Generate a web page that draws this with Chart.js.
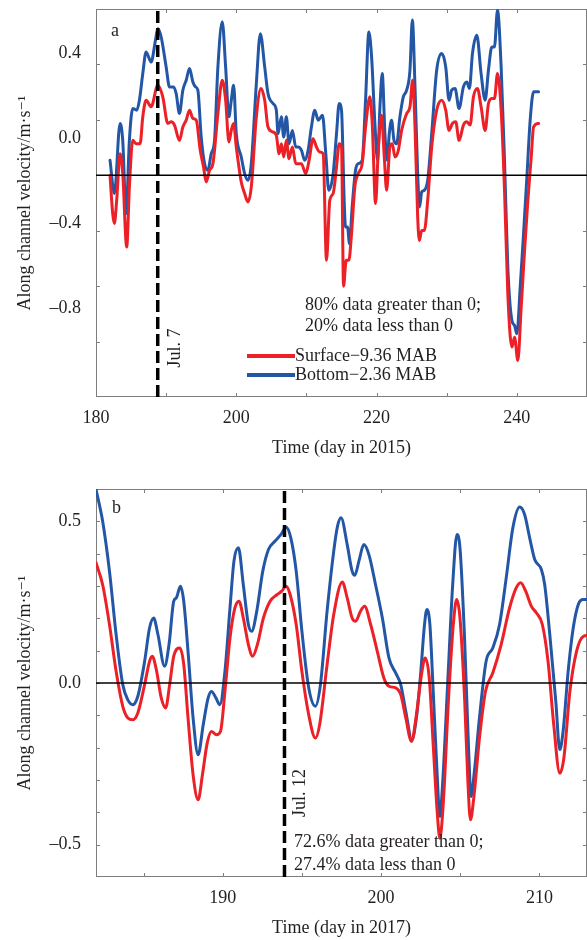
<!DOCTYPE html>
<html><head><meta charset="utf-8">
<script src="https://cdn.jsdelivr.net/npm/chart.js@4.4.0/dist/chart.umd.min.js"></script>
<style>
html,body{margin:0;padding:0;background:#fff;}
#wrap{position:relative;width:587px;height:940px;overflow:hidden;}
.box{position:absolute;left:0;width:587px;height:470px;}
canvas{display:block;}
</style></head><body>
<div id="wrap">
<div class="box" style="top:0"><canvas id="ca" width="587" height="470"></canvas></div>
<div class="box" style="top:470px"><canvas id="cb" width="587" height="470"></canvas></div>
</div>
<script>
// ---------- Panel a (2015) ----------
const daysA_surf = [182.0,182.38,182.62,182.95,183.43,183.81,184.38,184.76,185.24,185.71,186.29,186.67,187.14,187.86,188.81,189.52,190.24,190.71,191.19,191.90,192.38,192.86,193.33,193.81,194.29,194.86,195.33,195.71,196.19,196.67,197.38,198.0,198.48,198.95,199.29,199.62,200.0,200.71,201.19,201.67,202.14,202.86,203.52,204.05,204.52,205.24,205.71,206.10,206.43,206.76,207.14,207.52,208.0,208.48,208.81,209.29,209.90,210.38,210.95,211.43,211.90,212.38,212.86,213.33,213.81,214.29,214.67,
  215.0,215.29,215.67,216.05,216.43,216.90,217.38,217.95,218.43,219.05,219.38,219.86,220.24,220.71,221.10,221.43,221.90,222.24,222.62,223.10,223.57,224.29,224.76,225.14,225.48,225.86,226.10,226.43,226.81,227.29,227.86,228.57,229.29,229.86,230.33,230.81,231.29,231.76,232.38,232.86,233.33,233.81,234.38,234.90,235.48,235.95,236.43,236.81,237.24,237.76,238.24,238.71,239.29,239.67,240.14,240.62,241.10,241.57,242.05,242.38,243.10];
const surfaceA = [0,-0.138,-0.174,-0.090,0.078,0.006,-0.259,-0.042,0.126,0.114,0.114,0.211,0.271,0.247,0.325,0.283,0.187,0.193,0.181,0.126,0.174,0.199,0.235,0.205,0.199,0.090,0.030,-0.024,0.018,0.042,0.223,0.343,0.271,0.120,0.162,0.187,0.102,-0.024,-0.066,-0.096,-0.042,0.211,0.313,0.271,0.174,0.156,0.144,0.078,0.114,0.066,0.126,0.060,0.102,0.042,0.042,0.042,0.006,0.054,0.132,0.102,0.084,0.078,-0.307,-0.090,-0.066,0.030,0.114,
  0.102,-0.400,-0.307,-0.307,-0.211,-0.042,0.006,0.042,0.174,0.283,0.187,-0.102,0.090,0.217,0.066,-0.054,0.102,0.114,0.066,0.090,0.162,0.223,0.247,0.343,0.174,-0.150,-0.235,-0.199,-0.199,-0.090,0.102,0.235,0.271,0.235,0.162,0.187,0.193,0.126,0.181,0.193,0.181,0.283,0.313,0.247,0.162,0.259,0.277,0.277,0.367,0.235,-0.054,-0.427,-0.620,-0.584,-0.668,-0.475,-0.271,-0.090,0.066,0.174,0.187];
const daysA_bot = [182.0,182.62,183.43,183.81,184.29,184.76,185.24,185.81,186.19,186.67,187.14,187.86,188.48,188.81,189.29,190.0,190.48,191.05,191.43,191.90,192.38,192.86,193.33,193.81,194.19,194.52,195.0,195.48,195.95,196.43,196.90,197.38,198.0,198.48,198.95,199.29,199.62,200.0,200.71,201.19,201.67,202.14,202.86,203.43,204.05,204.52,205.24,205.71,205.95,206.43,206.76,207.14,207.52,208.0,208.48,208.81,209.29,209.76,210.24,210.71,211.19,211.67,212.29,212.76,213.19,213.81,214.29,214.67,
  215.0,215.38,215.57,215.86,216.14,216.52,217.0,217.38,217.95,218.43,218.90,219.29,219.76,220.14,220.48,220.81,221.19,221.52,221.81,222.14,222.48,222.86,223.33,223.81,224.29,224.76,225.10,225.48,225.86,226.14,226.43,226.81,227.29,227.86,228.57,229.29,229.86,230.33,230.71,231.19,231.76,232.38,232.86,233.24,233.67,234.29,234.90,235.48,235.95,236.43,236.81,237.24,237.76,238.24,238.71,239.29,239.67,240.0,240.48,240.95,241.43,241.90,242.38,243.10];
const bottomA = [0.054,-0.066,0.187,0.126,-0.138,0.126,0.241,0.235,0.271,0.367,0.445,0.409,0.487,0.529,0.499,0.391,0.319,0.319,0.295,0.223,0.307,0.343,0.385,0.337,0.319,0.307,0.138,0.042,0.018,0.078,0.126,0.391,0.554,0.391,0.211,0.271,0.325,0.150,0.066,0.006,-0.018,0.042,0.331,0.511,0.391,0.295,0.259,0.235,0.150,0.211,0.138,0.211,0.114,0.162,0.102,0.102,0.090,0.054,0.090,0.174,0.235,0.199,0.217,0.078,-0.054,0.006,0.150,0.259,
  0.235,-0.090,-0.187,-0.187,-0.247,-0.114,0.018,0.042,0.054,0.271,0.517,0.427,0.187,0.054,0.247,0.367,0.150,0.054,0.150,0.199,0.126,0.114,0.211,0.283,0.307,0.379,0.560,0.319,0.006,-0.114,-0.060,-0.054,-0.018,0.150,0.379,0.439,0.391,0.271,0.307,0.313,0.241,0.319,0.337,0.313,0.439,0.505,0.367,0.271,0.379,0.463,0.463,0.596,0.391,0.054,-0.331,-0.523,-0.542,-0.572,-0.403,-0.211,-0.006,0.199,0.301,0.301];
const xTicksA = [180,190,200,210,220,230,240,250];
const xLabelsA = [180,200,220,240];
const yTicksA = [-0.8,-0.6,-0.4,-0.2,0,0.2,0.4,0.6];
const yLabelsA = [0.4,0.0,-0.4,-0.8];
const julA = 188.8;

// ---------- Panel b (2017) ----------
const daysB_surf = [182.0,182.42,182.85,183.27,183.69,184.01,184.33,184.64,185.07,185.38,185.55,185.81,186.12,186.40,186.65,186.91,187.29,187.54,187.81,188.13,188.45,188.72,189.02,189.29,189.61,189.86,190.14,190.46,190.77,191.03,191.30,191.62,191.89,192.19,192.57,192.99,193.42,193.73,193.99,194.26,194.64,195.00,195.43,195.85,196.12,196.59,197.01,197.55,197.86,198.17,198.39,198.70,198.96,199.34,199.76,200.18,200.50,200.92,201.24,201.56,201.92,202.23,202.55,202.78,203.04,203.29,203.54,203.71,203.92,204.26,204.56,204.77,204.98,205.28,205.47,205.64,205.85,206.21,206.59,207.05,207.58,208.11,208.53,208.81,209.13,209.49,209.80,210.18,210.54,210.90,211.28,211.54,211.92,212.34,212.76,213.08];
const surfaceB = [0.372,0.304,0.181,0.036,-0.072,-0.108,-0.114,-0.093,-0.005,0.067,0.083,0.041,-0.046,-0.077,-0.005,0.083,0.108,0.057,-0.108,-0.284,-0.361,-0.284,-0.186,-0.150,-0.160,-0.150,-0.026,0.139,0.232,0.253,0.201,0.119,0.083,0.119,0.201,0.253,0.273,0.284,0.299,0.273,0.181,0.036,-0.098,-0.170,-0.129,0.057,0.212,0.312,0.263,0.201,0.191,0.222,0.237,0.181,0.098,0.015,-0.010,-0.015,-0.036,-0.108,-0.181,-0.098,0.026,0.077,0.015,-0.191,-0.397,-0.480,-0.377,-0.046,0.181,0.258,0.201,-0.057,-0.294,-0.423,-0.356,-0.170,-0.026,0.031,0.119,0.232,0.294,0.310,0.284,0.237,0.217,0.181,0.067,-0.129,-0.279,-0.232,-0.026,0.098,0.144,0.147];
const daysB_bot = [182.0,182.42,182.85,183.27,183.69,184.01,184.33,184.64,185.07,185.38,185.64,185.91,186.33,186.61,186.91,187.07,187.33,187.54,187.81,188.13,188.45,188.77,189.08,189.29,189.57,189.82,190.14,190.46,190.71,190.99,191.30,191.62,191.83,192.15,192.53,192.89,193.31,193.67,194.01,194.30,194.64,195.00,195.43,195.85,196.17,196.59,197.01,197.25,197.47,197.86,198.17,198.34,198.60,198.91,199.23,199.65,200.08,200.50,200.92,201.24,201.56,201.94,202.23,202.51,202.72,202.89,203.08,203.29,203.52,203.71,203.88,204.20,204.52,204.79,204.98,205.26,205.53,205.68,205.89,206.21,206.63,207.05,207.48,207.90,208.32,208.75,209.06,209.38,209.70,210.12,210.33,210.65,211.03,211.28,211.49,211.81,212.13,212.45,212.76,213.08];
const bottomB = [0.599,0.500,0.346,0.150,-0.005,-0.052,-0.067,-0.041,0.067,0.170,0.201,0.150,0.052,0.119,0.253,0.263,0.299,0.253,0.098,-0.108,-0.222,-0.129,-0.046,-0.026,-0.046,-0.067,0.036,0.232,0.377,0.418,0.304,0.181,0.160,0.222,0.346,0.413,0.439,0.459,0.482,0.449,0.346,0.160,-0.015,-0.072,-0.005,0.222,0.408,0.485,0.511,0.428,0.346,0.333,0.377,0.428,0.397,0.304,0.201,0.077,0.031,-0.005,-0.088,-0.175,-0.108,0.036,0.170,0.227,0.181,-0.026,-0.263,-0.413,-0.315,-0.005,0.304,0.459,0.418,0.150,-0.212,-0.351,-0.273,-0.108,0.067,0.108,0.181,0.325,0.480,0.544,0.521,0.449,0.382,0.351,0.304,0.150,-0.057,-0.206,-0.150,0.036,0.170,0.243,0.258,0.258];
const xTicksB = [185,190,195,200,205,210];
const xLabelsB = [190,200,210];
const yTicksB = [-0.6,-0.5,-0.4,-0.3,-0.2,-0.1,0,0.1,0.2,0.3,0.4,0.5,0.6];
const yLabelsB = [0.5,0.0,-0.5];
const julB = 193.9;

// ---------- styling ----------
const FONT_FAMILY = "'Liberation Serif','Times New Roman','DejaVu Serif',serif";
const TXT = '#231f20';
const RED = '#ec2027';
const BLUE = '#2456a6';
const SURF_LABEL = 'Surface\u22129.36 MAB';
const BOT_LABEL = 'Bottom\u22122.36 MAB';

function series(days, vals) { return days.map((d, i) => ({x: d, y: vals[i]})); }
function fmt(v) { return (v < -1e-9 ? '\u2013' : '') + Math.abs(v).toFixed(1); }
function near(list, v) { return list.some(l => Math.abs(l - v) < 1e-6); }

function framePlugin(xTicks, yTicks) {
  return {
    id: 'frame',
    beforeDatasetsDraw(chart) {
      const {ctx, chartArea: a, scales} = chart;
      ctx.save();
      ctx.strokeStyle = '#7d7d7d';
      ctx.lineWidth = 1;
      ctx.strokeRect(a.left + 0.5, a.top + 0.5, a.right - a.left - 1, a.bottom - a.top - 1);
      const L = 4;
      ctx.beginPath();
      xTicks.forEach(v => {
        const px = Math.round(scales.x.getPixelForValue(v)) + 0.5;
        if (px <= a.left + 1 || px >= a.right - 1) return;
        ctx.moveTo(px, a.bottom); ctx.lineTo(px, a.bottom - L);
        ctx.moveTo(px, a.top); ctx.lineTo(px, a.top + L);
      });
      yTicks.forEach(v => {
        const py = Math.round(scales.y.getPixelForValue(v)) + 0.5;
        if (py <= a.top + 1 || py >= a.bottom - 1) return;
        ctx.moveTo(a.left, py); ctx.lineTo(a.left + L, py);
        ctx.moveTo(a.right, py); ctx.lineTo(a.right - L, py);
      });
      ctx.stroke();
      ctx.restore();
    }
  };
}

function annotPlugin(drawFn) {
  return {
    id: 'annot',
    afterDraw(chart) {
      const ctx = chart.ctx;
      ctx.save();
      ctx.fillStyle = TXT;
      ctx.font = '18px ' + FONT_FAMILY;
      ctx.textBaseline = 'middle';
      ctx.textAlign = 'left';
      drawFn(chart, ctx);
      ctx.restore();
    }
  };
}

function rotText(ctx, text, x, y) {
  ctx.save();
  ctx.translate(x, y);
  ctx.rotate(-Math.PI / 2);
  ctx.textAlign = 'center';
  ctx.fillText(text, 0, 0);
  ctx.restore();
}

function makeOptions(p) {
  return {
    responsive: false, animation: false, devicePixelRatio: 1,
    layout: {padding: {left: 0, right: 0, top: p.top, bottom: 0}},
    plugins: {legend: {display: false}, tooltip: {enabled: false}},
    elements: {point: {radius: 0, hoverRadius: 0}, line: {borderCapStyle: 'round', borderJoinStyle: 'round'}},
    scales: {
      x: {
        type: 'linear', min: p.xMin, max: p.xMax,
        afterBuildTicks: s => { s.ticks = p.xTicks.map(v => ({value: v})); },
        afterFit: s => { s.height = p.xH; s.paddingLeft = 0; s.paddingRight = 0; },
        grid: {display: false, drawTicks: false}, border: {display: false},
        ticks: {autoSkip: false, maxRotation: 0, minRotation: 0, padding: 10, color: TXT,
          font: {family: FONT_FAMILY, size: 18},
          callback: v => near(p.xLabels, v) ? String(v) : ''},
        title: {display: true, text: p.xTitle, color: TXT, font: {family: FONT_FAMILY, size: 18},
          padding: {top: 0, bottom: p.xTitlePad}}
      },
      y: {type: 'linear', min: p.yMin, max: p.yMax, display: false},
      yl: {
        type: 'linear', position: 'left', min: p.ylMin, max: p.ylMax,
        afterBuildTicks: s => { s.ticks = p.yLabels.map(v => ({value: v})); },
        afterFit: s => { s.width = 96; s.paddingTop = 0; s.paddingBottom = 0; },
        grid: {display: false, drawTicks: false}, border: {display: false},
        ticks: {autoSkip: false, padding: 15, color: TXT, font: {family: FONT_FAMILY, size: 18},
          callback: v => fmt(v)},
        title: {display: true, text: 'Along channel velocity/m\u00b7s\u207b\u00b9', color: TXT,
          font: {family: FONT_FAMILY, size: 18}, padding: {top: 14, bottom: 0}}
      }
    }
  };
}

function makeDatasets(p) {
  return [
    {label: p.julLabel, data: [{x: p.jul, y: p.yMin}, {x: p.jul, y: p.yMax}], borderColor: '#000',
      borderWidth: 3.5, borderDash: [12, 5], borderCapStyle: 'butt', yAxisID: 'y', tension: 0},
    {label: 'zero', data: [{x: p.xMin, y: 0}, {x: p.xMax, y: 0}], borderColor: '#000',
      borderWidth: 1.5, borderCapStyle: 'butt', yAxisID: 'y', tension: 0},
    {label: SURF_LABEL, data: series(p.dS, p.vS), borderColor: RED, borderWidth: 3,
      cubicInterpolationMode: 'monotone', yAxisID: 'y'},
    {label: BOT_LABEL, data: series(p.dB, p.vB), borderColor: BLUE, borderWidth: 3,
      cubicInterpolationMode: 'monotone', yAxisID: 'y'}
  ];
}

// ---------- Chart a ----------
const pA = {top: 9, xMin: 180, xMax: 250, xTicks: xTicksA, xLabels: xLabelsA, xH: 73,
  xTitle: 'Time (day in 2015)', xTitlePad: 11, yMin: -0.8, yMax: 0.6,
  ylMin: -1.218, ylMax: 0.608, yLabels: yLabelsA, jul: julA, julLabel: 'Jul. 7',
  dS: daysA_surf, vS: surfaceA, dB: daysA_bot, vB: bottomA};
new Chart(document.getElementById('ca'), {
  type: 'line',
  data: {datasets: makeDatasets(pA)},
  options: makeOptions(pA),
  plugins: [framePlugin(xTicksA, yTicksA), annotPlugin((chart, ctx) => {
    const ds = chart.data.datasets;
    ctx.fillText('a', 111, 31);
    ctx.fillText('80% data greater than 0;', 305, 305);
    ctx.fillText('20% data less than 0', 305, 326);
    ctx.lineWidth = 4;
    ctx.strokeStyle = ds[2].borderColor;
    ctx.beginPath(); ctx.moveTo(247, 356); ctx.lineTo(295, 356); ctx.stroke();
    ctx.strokeStyle = ds[3].borderColor;
    ctx.beginPath(); ctx.moveTo(247, 375); ctx.lineTo(295, 375); ctx.stroke();
    ctx.fillText(ds[2].label, 295, 356);
    ctx.fillText(ds[3].label, 295, 375);
    rotText(ctx, ds[0].label, chart.scales.x.getPixelForValue(julA) + 18, 348);
  })]
});

// ---------- Chart b ----------
const pB = {top: 19, xMin: 182, xMax: 213, xTicks: xTicksB, xLabels: xLabelsB, xH: 63,
  xTitle: 'Time (day in 2017)', xTitlePad: 1, yMin: -0.6, yMax: 0.6,
  ylMin: -0.6, ylMax: 0.6, yLabels: yLabelsB, jul: julB, julLabel: 'Jul. 12',
  dS: daysB_surf, vS: surfaceB, dB: daysB_bot, vB: bottomB};
new Chart(document.getElementById('cb'), {
  type: 'line',
  data: {datasets: makeDatasets(pB)},
  options: makeOptions(pB),
  plugins: [framePlugin(xTicksB, yTicksB), annotPlugin((chart, ctx) => {
    const ds = chart.data.datasets;
    ctx.fillText('b', 112, 38);
    ctx.fillText('72.6% data greater than 0;', 294, 372);
    ctx.fillText('27.4% data less than 0', 294, 395);
    rotText(ctx, ds[0].label, chart.scales.x.getPixelForValue(julB) + 16, 323);
  })]
});
</script>
</body></html>
